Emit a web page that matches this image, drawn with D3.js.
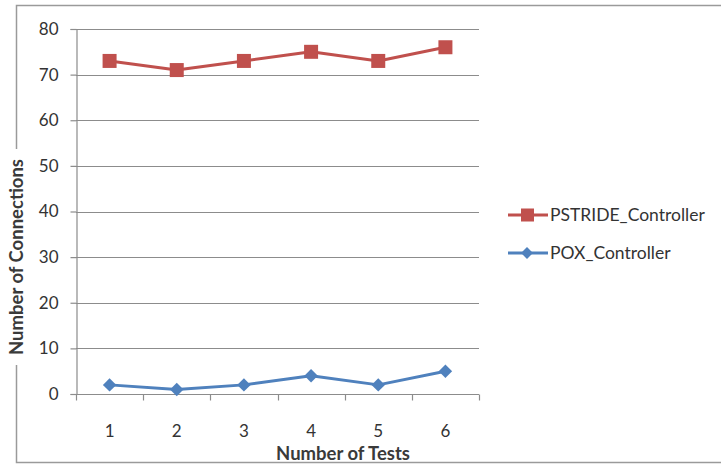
<!DOCTYPE html>
<html>
<head>
<meta charset="utf-8">
<script src="https://cdn.jsdelivr.net/npm/d3@7"></script>
<style>
  html, body { margin: 0; padding: 0; background: #fff; }
  svg { display: block; }
  text { font-family: Lato, "Open Sans", sans-serif; }
</style>
</head>
<body>
<svg id="chart" width="721" height="465"></svg>
<script>
// Connection counts per test run for the two controllers
const tests = [1, 2, 3, 4, 5, 6];
const pstrideValues = [73, 71, 73, 75, 73, 76];
const poxValues = [2, 1, 2, 4, 2, 5];
const yTicks = [0, 10, 20, 30, 40, 50, 60, 70, 80];
const seriesNames = ["PSTRIDE_Controller", "POX_Controller"];

const svg = d3.select("#chart");
const W = 721, H = 465;

const plot = { left: 76, right: 479, top: 29, bottom: 394 };

const x = d3.scaleBand().domain(tests).range([plot.left, plot.right]);
const y = d3.scaleLinear().domain([0, 80]).range([plot.bottom, plot.top]);

// Outer chart frame
svg.append("rect")
  .attr("x", 16.5).attr("y", 5.5)
  .attr("width", W + 10).attr("height", 457)
  .attr("fill", "#fff").attr("stroke", "#9a9a9a").attr("stroke-width", 1.5);

// Horizontal gridlines
svg.append("g")
  .selectAll("line")
  .data(yTicks.filter(d => d > 0))
  .join("line")
  .attr("x1", plot.left).attr("x2", plot.right)
  .attr("y1", d => Math.round(y(d)) + 0.5).attr("y2", d => Math.round(y(d)) + 0.5)
  .attr("stroke", "#8c8c8c").attr("stroke-width", 1.2);

// Y axis
const yAxis = svg.append("g")
  .attr("transform", `translate(${plot.left + 0.5},0)`)
  .call(d3.axisLeft(y).tickValues(yTicks).tickSize(6).tickPadding(12));
yAxis.select(".domain").attr("stroke", "#8c8c8c").attr("stroke-width", 1.2);
yAxis.selectAll(".tick line").attr("stroke", "#8c8c8c").attr("stroke-width", 1.2);
yAxis.selectAll("text")
  .attr("font-size", 17).attr("fill", "#333")
  .style("font-family", "Lato, 'Open Sans', sans-serif");

// X axis: ticks sit on band boundaries, labels at band centres
const xAxisG = svg.append("g")
  .attr("transform", `translate(0,${plot.bottom + 0.5})`);
xAxisG.append("line")
  .attr("x1", plot.left).attr("x2", plot.right)
  .attr("stroke", "#8c8c8c").attr("stroke-width", 1.2);
const bounds = tests.map(t => x(t)).concat([plot.right]);
xAxisG.selectAll("line.tk")
  .data(bounds)
  .join("line").attr("class", "tk")
  .attr("x1", d => Math.round(d) + 0.5).attr("x2", d => Math.round(d) + 0.5)
  .attr("y1", 0).attr("y2", 6)
  .attr("stroke", "#8c8c8c").attr("stroke-width", 1.2);
xAxisG.selectAll("text")
  .data(tests)
  .join("text")
  .attr("x", d => x(d) + x.bandwidth() / 2)
  .attr("y", 42)
  .attr("text-anchor", "middle")
  .attr("font-size", 17).attr("fill", "#333")
  .text(d => d);

// Axis titles
svg.append("text")
  .attr("x", 343).attr("y", 460)
  .attr("text-anchor", "middle")
  .attr("font-size", 18.5).attr("font-weight", "bold").attr("fill", "#3a3a3a")
  .text("Number of Tests");

const yTitle = svg.append("g").attr("transform", "translate(23,257) rotate(-90)");
yTitle.append("rect")
  .attr("x", -108).attr("y", -15).attr("width", 216).attr("height", 20)
  .attr("fill", "#fff");
yTitle.append("text")
  .attr("x", 0).attr("y", 0)
  .attr("text-anchor", "middle")
  .attr("font-size", 18.5).attr("font-weight", "bold").attr("fill", "#3a3a3a")
  .text("Number of Connections");

const red = "#C0504D", blue = "#4F81BD";
const line = d3.line()
  .x((d, i) => x(tests[i]) + x.bandwidth() / 2)
  .y(d => y(d));

// PSTRIDE series: line with square markers
svg.append("path").datum(pstrideValues)
  .attr("d", line).attr("fill", "none")
  .attr("stroke", red).attr("stroke-width", 3).attr("stroke-linejoin", "round");
svg.append("g").selectAll("rect")
  .data(pstrideValues)
  .join("rect")
  .attr("x", (d, i) => x(tests[i]) + x.bandwidth() / 2 - 7)
  .attr("y", d => y(d) - 7)
  .attr("width", 14).attr("height", 14)
  .attr("fill", red);

// POX series: line with diamond markers
const diamond = d3.symbol().type(d3.symbolDiamond2).size(115);
svg.append("path").datum(poxValues)
  .attr("d", line).attr("fill", "none")
  .attr("stroke", blue).attr("stroke-width", 3).attr("stroke-linejoin", "round");
svg.append("g").selectAll("path")
  .data(poxValues)
  .join("path")
  .attr("transform", (d, i) => `translate(${x(tests[i]) + x.bandwidth() / 2},${y(d)})`)
  .attr("d", diamond)
  .attr("fill", blue);

// Legend
const legend = svg.append("g");
const items = [
  { name: seriesNames[0], color: red, marker: "square", cy: 215 },
  { name: seriesNames[1], color: blue, marker: "diamond", cy: 253 }
];
items.forEach(it => {
  const g = legend.append("g");
  g.append("line")
    .attr("x1", 508).attr("x2", 548).attr("y1", it.cy).attr("y2", it.cy)
    .attr("stroke", it.color).attr("stroke-width", 3);
  if (it.marker === "square") {
    g.append("rect").attr("x", 521).attr("y", it.cy - 6.5).attr("width", 13).attr("height", 13)
      .attr("fill", it.color);
  } else {
    g.append("path").attr("transform", `translate(527,${it.cy})`)
      .attr("d", d3.symbol().type(d3.symbolDiamond2).size(90)).attr("fill", it.color);
  }
  g.append("text")
    .attr("x", 550).attr("y", it.cy + 6)
    .attr("font-size", 17.5).attr("fill", "#333")
    .text(it.name);
});
</script>
</body>
</html>
